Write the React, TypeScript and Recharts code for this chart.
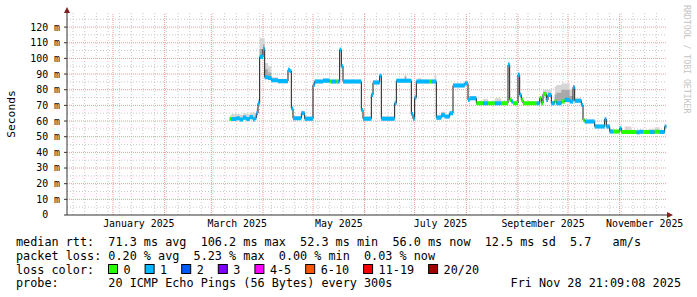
import { Area, CartesianGrid, ComposedChart, Line, ReferenceDot, ReferenceLine, XAxis, YAxis } from "recharts";

const W = 697;
const H = 297;
const mono = '"DejaVu Sans Mono", monospace';

// x values are days counted from 1 January 2025 (0 = Jan 1)
const days = [
  70, 71, 74, 76, 78, 80, 82, 84, 85, 86,
  87, 88, 90, 91, 93, 95, 99, 105, 106, 107,
  108, 113, 115, 120, 121, 126, 130, 131, 134, 135,
  136, 137, 138, 149, 150, 155, 156, 160, 161, 169,
  170, 175, 176, 179, 180, 181, 182, 183, 185, 190,
  191, 193, 194, 197, 199, 202, 204, 211, 213, 214,
  218, 222, 225, 229, 233, 237, 238, 239, 240, 243,
  244, 245, 246, 254, 256, 257, 258, 260, 261, 263,
  265, 266, 269, 271, 274, 276, 277, 281, 282, 283,
  289, 295, 296, 298, 300, 304, 305, 307, 311, 314,
  316, 318, 322, 325, 328, 331, 332,
];

// median rtt in ms
const medianMs = [
  61.3, 61.3, 61.8, 61.0, 62.2, 61.3, 62.5, 61.0, 62.0, 65.0,
  71.4, 101.0, 106.0, 88.0, 87.5, 86.0, 85.5, 92.7, 92.0, 68.0,
  61.8, 65.0, 61.5, 83.0, 85.3, 85.8, 85.3, 85.3, 85.3, 85.3,
  105.5, 95.0, 85.2, 67.0, 61.5, 76.7, 84.6, 88.9, 61.5, 71.4,
  85.7, 85.7, 85.7, 64.4, 61.5, 75.0, 85.2, 85.2, 85.2, 85.2,
  85.2, 85.2, 62.2, 63.8, 62.9, 65.0, 82.7, 84.0, 73.5, 74.6,
  71.4, 71.4, 71.4, 71.4, 71.4, 95.9, 73.5, 72.5, 71.4, 89.5,
  76.7, 73.5, 71.4, 71.4, 74.6, 71.4, 77.2, 73.5, 76.6, 71.4,
  72.8, 71.4, 72.5, 73.5, 72.5, 81.6, 73.0, 70.3, 60.7, 59.7,
  56.5, 61.2, 56.5, 53.3, 53.3, 55.4, 53.0, 53.0, 53.0, 52.8,
  53.2, 53.0, 53.0, 53.2, 53.0, 56.5, 56.5,
];

// pings lost out of 20
const lostPings = [
  0, 1, 1, 1, 1, 1, 1, 1, 1, 1,
  1, 1, 1, 1, 1, 1, 1, 1, 1, 1,
  1, 1, 1, 1, 1, 1, 0, 1, 0, 1,
  1, 1, 1, 1, 1, 1, 1, 1, 1, 1,
  1, 1, 1, 1, 1, 1, 1, 1, 1, 0,
  1, 1, 1, 1, 1, 1, 1, 1, 1, 1,
  0, 1, 0, 1, 0, 1, 0, 1, 0, 1,
  1, 0, 0, 1, 0, 0, 0, 1, 1, 1,
  0, 1, 0, 1, 1, 1, 1, 1, 0, 1,
  1, 1, 1, 1, 0, 1, 0, 0, 0, 1,
  1, 0, 1, 0, 1, 1, 1,
];

// upper edge of the smoke (slowest pings), ms
const smokeTopMs = [
  63.5, 64.5, 64.5, 64.0, 65.0, 64.5, 65.5, 66.0, 65.0, 68.0,
  74.0, 113.0, 113.0, 97.0, 95.0, 88.0, 87.0, 94.0, 93.0, 70.0,
  63.0, 66.5, 63.0, 84.5, 86.5, 87.0, 86.5, 86.5, 86.5, 86.5,
  107.0, 96.5, 86.5, 68.5, 63.0, 78.0, 86.0, 90.0, 63.0, 73.0,
  87.0, 89.5, 87.0, 66.0, 63.0, 76.5, 86.5, 87.5, 86.5, 86.5,
  86.5, 89.5, 64.0, 66.0, 64.0, 66.5, 84.0, 85.5, 76.0, 76.0,
  73.0, 74.0, 72.5, 74.6, 73.0, 98.0, 75.0, 74.0, 73.0, 91.0,
  78.0, 75.0, 72.5, 72.5, 76.0, 74.0, 80.0, 80.0, 80.0, 73.0,
  82.0, 83.0, 84.0, 84.0, 80.0, 83.0, 74.5, 71.5, 62.0, 61.0,
  58.0, 62.5, 58.0, 55.0, 54.5, 57.0, 54.5, 56.5, 54.5, 54.5,
  54.5, 54.5, 55.0, 56.0, 54.5, 58.0, 58.0,
];

// dense part of the smoke, ms (0 = none)
const smokeCoreMs = [
  0, 0, 0, 0, 0, 0, 0, 0, 0, 0,
  0, 106, 109, 93, 91, 0, 0, 0, 0, 0,
  0, 0, 0, 0, 0, 0, 0, 0, 0, 0,
  0, 0, 0, 0, 0, 0, 0, 0, 0, 0,
  0, 88.5, 0, 0, 0, 0, 0, 0, 0, 0,
  0, 0, 0, 65.5, 0, 0, 0, 0, 0, 0,
  0, 0, 0, 0, 0, 0, 0, 0, 0, 0,
  0, 0, 0, 0, 0, 0, 0, 76, 78, 0,
  77, 78, 80, 80, 76, 0, 0, 0, 0, 0,
  0, 0, 0, 0, 0, 0, 0, 0, 0, 0,
  0, 0, 0, 0, 0, 0, 0,
];

const monthStarts = [0, 31, 59, 90, 120, 151, 181, 212, 243, 273, 304];
const weekDays = [
  -24, -17, -10, -3, 4, 11, 18, 25, 32, 39, 46, 53, 60, 67, 74, 81, 88, 95, 102, 109,
  116, 123, 130, 137, 144, 151, 158, 165, 172, 179, 186, 193, 200, 207, 214, 221, 228,
  235, 242, 249, 256, 263, 270, 277, 284, 291, 298, 305, 312, 319, 326,
];
const labelDays = [15.5, 74.5, 135.5, 196.5, 258, 319];
const labelNames = ["January 2025", "March 2025", "May 2025", "July 2025", "September 2025", "November 2025"];
const majorMs = [0, 10, 20, 30, 40, 50, 60, 70, 80, 90, 100, 110, 120];
const minorMs = [5, 15, 25, 35, 45, 55, 65, 75, 85, 95, 105, 115, 125];

const lossNames = ["0", "1", "2", "3", "4-5", "6-10", "11-19", "20/20"];
const lossColors = ["#26ff00", "#00b8ff", "#0059ff", "#7e00ff", "#ff00ff", "#ff5500", "#ff0000", "#a10000"];

const legendLines = [
  "median rtt:  71.3 ms avg  106.2 ms max  52.3 ms min  56.0 ms now  12.5 ms sd  5.7   am/s",
  "packet loss: 0.20 % avg  5.23 % max  0.00 % min  0.03 % now",
  "loss color:",
  "probe:       20 ICMP Echo Pings (56 Bytes) every 300s",
];
const stamp = "Fri Nov 28 21:09:08 2025";

const DOMAIN_X: [number, number] = [-27.6, 332.4];
const DOMAIN_Y: [number, number] = [0, 129];
const HALF = 1.3;

const rows = days.map((day, i) => {
  const m = medianMs[i];
  const core = smokeCoreMs[i];
  return {
    day,
    median: m,
    smoke: [m - HALF, smokeTopMs[i]],
    core: core ? [m, core] : [m, m],
    loss0: lostPings[i] === 0 ? [m - HALF, m + HALF] : [m, m],
    loss1: lostPings[i] === 1 ? [m - HALF, m + HALF] : [m, m],
  };
});

const pre = { whiteSpace: "pre" as const };

function MsTick({ x, y, payload }: any) {
  const label = payload.value === 0 ? "0  " : `${payload.value} m`;
  return (
    <text x={x} y={y} dy="0.35em" textAnchor="end" fontSize={9.9} fontFamily={mono} fill="#000" xmlSpace="preserve" style={pre}>
      {label}
    </text>
  );
}

const RightArrow = ({ cx, cy }: any) => <path d={`M${cx},${cy - 3}L${cx + 6},${cy}L${cx},${cy + 3}Z`} fill="#7f1f1f" />;
const UpArrow = ({ cx, cy }: any) => <path d={`M${cx - 3},${cy}L${cx},${cy - 6}L${cx + 3},${cy}Z`} fill="#7f1f1f" />;

function Txt({ x, y, children, anchor }: { x: number; y: number; children: string; anchor?: "end" }) {
  return (
    <text x={x} y={y} textAnchor={anchor} xmlSpace="preserve" style={pre}>
      {children}
    </text>
  );
}

function Legend() {
  const cw = 7.1;
  let x = 108.5;
  const items = lossNames.map((name, i) => {
    const boxX = x;
    x = boxX + 15 + name.length * cw + 14.5;
    return (
      <g key={name}>
        <rect x={boxX} y={264.5} width={9} height={9} fill={lossColors[i]} stroke="#000" strokeWidth={1} />
        <Txt x={boxX + 15} y={273.5}>{name}</Txt>
      </g>
    );
  });
  return (
    <svg width={W} height={H} style={{ position: "absolute", left: 0, top: 0, pointerEvents: "none" }}>
      <g fontFamily={mono} fontSize={11.8} fill="#000">
        <Txt x={16} y={246}>{legendLines[0]}</Txt>
        <Txt x={16} y={259.5}>{legendLines[1]}</Txt>
        <Txt x={16} y={273.5}>{legendLines[2]}</Txt>
        {items}
        <Txt x={16} y={287}>{legendLines[3]}</Txt>
        <Txt x={681} y={287} anchor="end">{stamp}</Txt>
        <text transform="translate(15,114) rotate(-90)" textAnchor="middle" fontSize={11.3}>Seconds</text>
      </g>
      <text transform="translate(684,5) rotate(90)" fontFamily={mono} fontSize={8.2} fill="#c4c4c4" xmlSpace="preserve" style={pre}>
        RRDTOOL / TOBI OETIKER
      </text>
    </svg>
  );
}

export default function App() {
  return (
    <div style={{ position: "absolute", left: 0, top: 0, width: W, height: H, background: "#fff" }}>
      <ComposedChart width={W} height={H} data={rows} margin={{ top: 13, right: 30, bottom: 52, left: 0 }}>
        <CartesianGrid horizontalValues={minorMs} verticalValues={weekDays} stroke="#c8c8c8" strokeDasharray="1 2" />
        {monthStarts.map((d) => (
          <ReferenceLine key={`m${d}`} x={d} stroke="#ec9a9a" strokeDasharray="1 1" zIndex={-50} />
        ))}
        {majorMs.slice(1).map((v) => (
          <ReferenceLine key={`h${v}`} y={v} stroke="#ec9a9a" strokeDasharray="1 1" zIndex={-50} />
        ))}
        <XAxis
          type="number"
          dataKey="day"
          domain={DOMAIN_X}
          ticks={labelDays}
          interval={0}
          allowDataOverflow
          tickFormatter={(v: number) => labelNames[labelDays.indexOf(v)]}
          axisLine={{ stroke: "#333" }}
          tickLine={false}
          tickSize={0}
          tickMargin={5}
          tick={{ fontSize: 9.9, fontFamily: mono, fill: "#000" }}
          height={30}
        />
        <YAxis
          type="number"
          domain={DOMAIN_Y}
          ticks={majorMs}
          interval={0}
          allowDataOverflow
          width={67}
          axisLine={{ stroke: "#333" }}
          tickLine={{ stroke: "#333" }}
          tickSize={3}
          tickMargin={4}
          tick={<MsTick />}
        />
        <Area dataKey="smoke" type="stepAfter" stroke="none" fill="#d6d6d6" fillOpacity={1} isAnimationActive={false} dot={false} activeDot={false} zIndex={100} />
        <Area dataKey="core" type="stepAfter" stroke="none" fill="#a9a9a9" fillOpacity={1} isAnimationActive={false} dot={false} activeDot={false} zIndex={110} />
        <Line dataKey="median" type="stepAfter" stroke="#1b1b1b" strokeWidth={1} dot={false} activeDot={false} isAnimationActive={false} zIndex={120} />
        <Area dataKey="loss1" type="stepAfter" stroke="none" fill={lossColors[1]} fillOpacity={1} isAnimationActive={false} dot={false} activeDot={false} zIndex={600} />
        <Area dataKey="loss0" type="stepAfter" stroke="none" fill={lossColors[0]} fillOpacity={1} isAnimationActive={false} dot={false} activeDot={false} zIndex={610} />
        <ReferenceDot x={DOMAIN_X[1]} y={0} r={0} ifOverflow="visible" shape={RightArrow} />
        <ReferenceDot x={DOMAIN_X[0]} y={DOMAIN_Y[1]} r={0} ifOverflow="visible" shape={UpArrow} />
      </ComposedChart>
      <Legend />
    </div>
  );
}
